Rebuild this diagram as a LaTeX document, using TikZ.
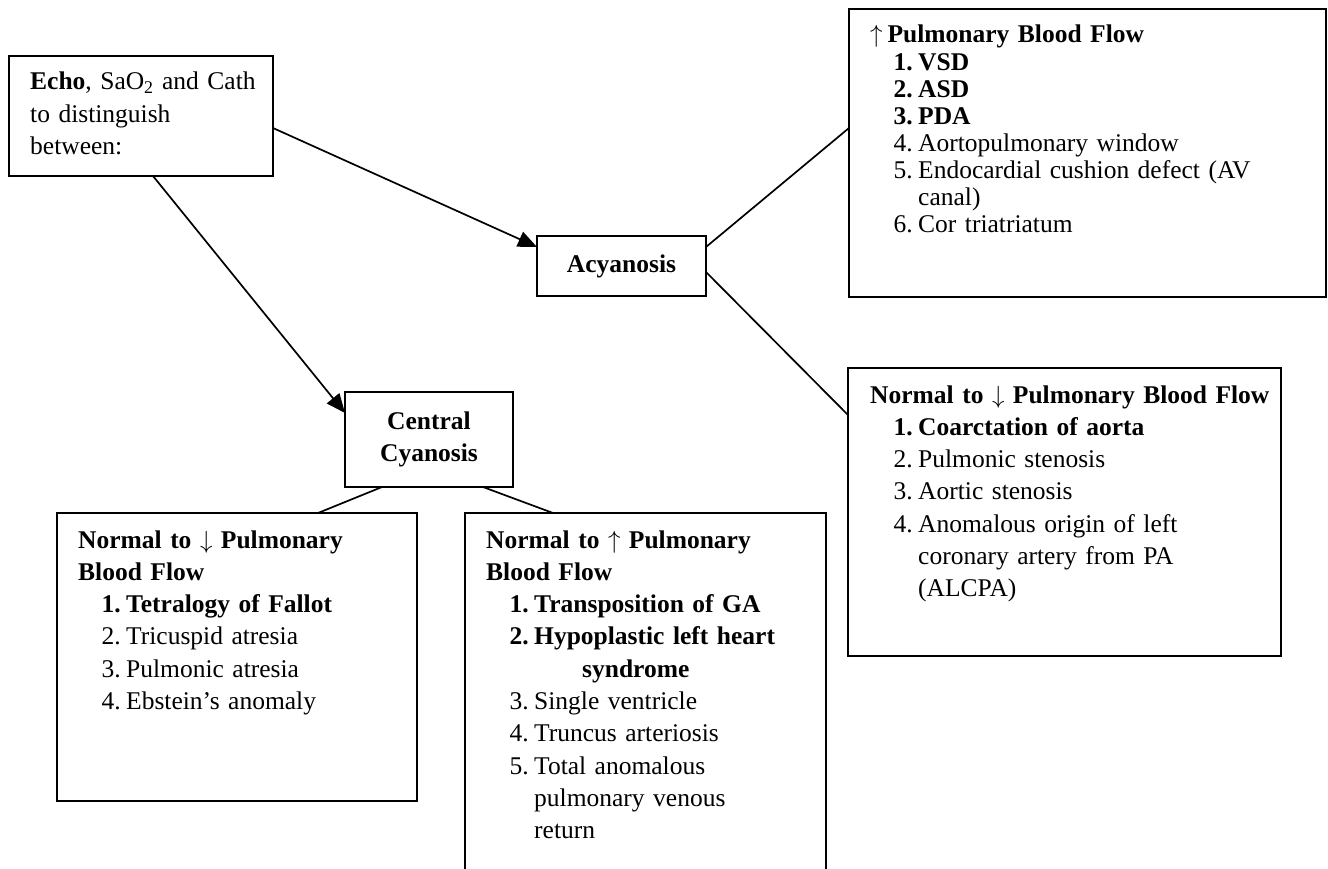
\documentclass[tikz,border=0pt]{standalone}
\usepackage{fontspec}
\setmainfont{Liberation Serif}
\usetikzlibrary{arrows.meta}
\newcommand{\nitem}[2]{\hspace*{23.5pt}\makebox[24.5pt][l]{#1}#2}
\newcommand{\ncont}[1]{\hspace*{48pt}#1}
\begin{document}
\begin{tikzpicture}[x=1pt,y=-1pt,
  box/.style={draw, line width=2pt, inner sep=0pt, outer sep=0pt},
  cbox/.style={box, align=center, font=\bfseries\fontsize{25.5}{32.3}\selectfont},
  txt/.style={anchor=base west, inner sep=0pt, align=left, text width=#1,
    font=\fontsize{25.5}{32.3}\selectfont},
  link/.style={line width=1.7pt},
  arrowlink/.style={link, -{Triangle[length=19pt,width=16pt]}}
]
\useasboundingbox (0,0) rectangle (1328,869);
\clip (0,0) rectangle (1328,869);

% boxes
\node[box, minimum width=264pt, minimum height=120pt] (echo) at (141,116) {};
\node[cbox, minimum width=169pt, minimum height=60pt] (acy) at (621.5,266) {Acyanosis};
\node[cbox, minimum width=168pt, minimum height=95pt] (cen) at (429,439.5) {Central\\Cyanosis};
\node[box, minimum width=477pt, minimum height=288pt] (inc) at (1087.5,153) {};
\node[box, minimum width=433pt, minimum height=288pt] (nor) at (1064.5,512) {};
\node[box, minimum width=360pt, minimum height=288pt] (cyd) at (237,657) {};
\node[box, minimum width=361pt, minimum height=377pt] (cyu) at (645.5,701.5) {};

% texts
\node[txt=245pt] (echot) at (30,90) {\textbf{Echo}, SaO\textsubscript{2} and Cath\\to distinguish\\between:};

\node[txt=450pt, font=\fontsize{25.5}{27.14}\selectfont] (inct) at (870,43) {%
$\uparrow$\hspace{5pt}\textbf{Pulmonary Blood Flow}\\
\nitem{\textbf{1.}}{\textbf{VSD}}\\
\nitem{\textbf{2.}}{\textbf{ASD}}\\
\nitem{\textbf{3.}}{\textbf{PDA}}\\
\nitem{4.}{Aortopulmonary window}\\
\nitem{5.}{Endocardial cushion defect (AV}\\
\ncont{canal)}\\
\nitem{6.}{Cor triatriatum}};

\node[txt=410pt] (nort) at (870,403) {%
\textbf{Normal to $\downarrow$ Pulmonary Blood Flow}\\
\nitem{\textbf{1.}}{\textbf{Coarctation of aorta}}\\
\nitem{2.}{Pulmonic stenosis}\\
\nitem{3.}{Aortic stenosis}\\
\nitem{4.}{Anomalous origin of left}\\
\ncont{coronary artery from PA}\\
\ncont{(ALCPA)}};

\node[txt=335pt] (cydt) at (78,548) {%
\textbf{Normal to $\downarrow$ Pulmonary}\\
\textbf{Blood Flow}\\
\nitem{\textbf{1.}}{\textbf{Tetralogy of Fallot}}\\
\nitem{2.}{Tricuspid atresia}\\
\nitem{3.}{Pulmonic atresia}\\
\nitem{4.}{Ebstein’s anomaly}};

\node[txt=335pt] (cyut) at (486,548) {%
\textbf{Normal to $\uparrow$ Pulmonary}\\
\textbf{Blood Flow}\\
\nitem{\textbf{1.}}{\textbf{Transposition of GA}}\\
\nitem{\textbf{2.}}{\textbf{Hypoplastic left heart}}\\
\hspace*{96pt}\textbf{syndrome}\\
\nitem{3.}{Single ventricle}\\
\nitem{4.}{Truncus arteriosis}\\
\nitem{5.}{Total anomalous}\\
\ncont{pulmonary venous}\\
\ncont{return}};

% connectors
\draw[arrowlink] ([yshift=-12pt]echo.east) -- ([yshift=19pt]acy.west);
\draw[arrowlink] ([xshift=12pt]echo.south) -- ([yshift=26.5pt]cen.west);
\draw[link] ([yshift=19pt]acy.east) -- ([yshift=25pt]inc.west);
\draw[link] ([yshift=-6pt]acy.east) -- ([yshift=97pt]nor.west);
\draw[link] ([xshift=-47pt]cen.south) -- ([xshift=81pt]cyd.north);
\draw[link] ([xshift=54pt]cen.south) -- ([xshift=-92.5pt]cyu.north);
\end{tikzpicture}
\end{document}
